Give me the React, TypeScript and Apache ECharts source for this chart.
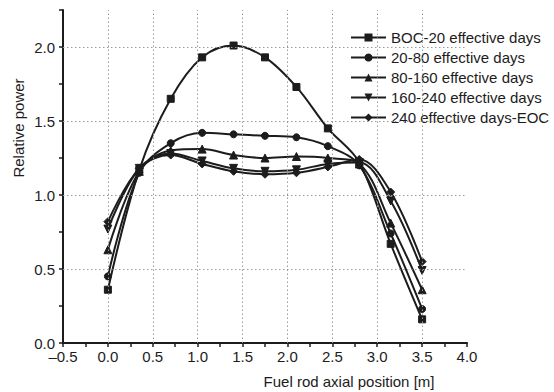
import React, { useEffect, useRef } from "react";
import * as echarts from "echarts";

const positions = [0.0, 0.35, 0.7, 1.05, 1.4, 1.75, 2.1, 2.45, 2.8, 3.15, 3.5];
const seriesNames = [
  "BOC-20 effective days",
  "20-80 effective days",
  "80-160 effective days",
  "160-240 effective days",
  "240 effective days-EOC",
];
const boc20 = [0.36, 1.17, 1.65, 1.93, 2.01, 1.93, 1.73, 1.45, 1.22, 0.67, 0.16];
const d20_80 = [0.45, 1.15, 1.35, 1.42, 1.41, 1.40, 1.39, 1.33, 1.20, 0.74, 0.23];
const d80_160 = [0.63, 1.16, 1.30, 1.31, 1.27, 1.25, 1.26, 1.25, 1.21, 0.81, 0.36];
const d160_240 = [0.77, 1.18, 1.28, 1.23, 1.18, 1.16, 1.17, 1.21, 1.22, 0.96, 0.49];
const d240_eoc = [0.82, 1.18, 1.27, 1.21, 1.16, 1.14, 1.15, 1.19, 1.24, 1.02, 0.55];
const xGrid = [0.0, 0.5, 1.0, 1.5, 2.0, 2.5, 3.0, 3.5];
const yGrid = [0.5, 1.0, 1.5, 2.0];

const FONT = "Liberation Sans, Arial, sans-serif";
const INK = "#1c1c1c";

export default function App() {
  const ref = useRef<HTMLDivElement>(null);
  useEffect(() => {
    if (!ref.current) return;
    const chart = echarts.init(ref.current, undefined, { renderer: "svg" });
    const values = [boc20, d20_80, d80_160, d160_240, d240_eoc];
    const symbols = ["rect", "circle", "triangle", "triangle", "diamond"];
    const rotations = [0, 0, 0, 180, 0];
    const sizes = [7, 7, 8, 8, 8];
    const dataSeries = values.map((vals, i) => ({
      name: seriesNames[i],
      type: "line",
      smooth: 0.35,
      data: vals.map((v, j) => [positions[j], v]),
      symbol: symbols[i],
      symbolRotate: rotations[i],
      symbolSize: sizes[i],
      showSymbol: true,
      lineStyle: { color: INK, width: 2 },
      itemStyle: { color: INK, borderColor: INK },
      z: 3,
    }));
    const lineStyleGrid = { color: "#9a9a9a", type: [1.5, 2.5], width: 1 };
    const gridSeries = {
      type: "line",
      data: [],
      silent: true,
      z: 1,
      markLine: {
        silent: true,
        symbol: ["none", "none"],
        label: { show: false },
        lineStyle: lineStyleGrid,
        emphasis: { disabled: true },
        data: [
          ...xGrid.map((x) => ({ xAxis: x })),
          ...yGrid.map((y) => ({ yAxis: y })),
        ],
      },
    };
    const fmt = (v: number) => {
      if (Math.abs(Math.round(v * 2) - v * 2) > 1e-6) return "";
      const s = v.toFixed(1);
      return v < 0 ? "\u2013" + s.slice(1) : s;
    };
    chart.setOption({
      animation: false,
      backgroundColor: "#ffffff",
      textStyle: { fontFamily: FONT },
      grid: { left: 63, right: 87, top: 10, bottom: 49 },
      legend: {
        data: seriesNames,
        orient: "vertical",
        left: 345,
        top: 25,
        padding: [5, 4, 5, 5],
        backgroundColor: "#ffffff",
        itemWidth: 35,
        itemHeight: 10,
        itemGap: 5,
        z: 5,
        textStyle: { fontSize: 15, color: INK, fontFamily: FONT, lineHeight: 14 },
      },
      xAxis: {
        type: "value",
        min: -0.5,
        max: 4.0,
        interval: 0.25,
        axisLine: { show: true, onZero: false, lineStyle: { color: INK, width: 2 } },
        axisTick: { show: true, inside: false, length: 4, lineStyle: { color: INK, width: 1.5 } },
        axisLabel: { formatter: fmt, fontSize: 15, color: INK, margin: 6, fontFamily: FONT },
        splitLine: { show: false },
      },
      yAxis: {
        type: "value",
        min: 0,
        max: 2.25,
        interval: 0.25,
        axisLine: { show: true, onZero: false, lineStyle: { color: INK, width: 2 } },
        axisTick: { show: true, inside: false, length: 4, lineStyle: { color: INK, width: 1.5 } },
        axisLabel: { formatter: fmt, fontSize: 15, color: INK, margin: 8, fontFamily: FONT },
        splitLine: { show: false },
      },
      graphic: [
        {
          type: "text",
          x: 18,
          y: 128,
          rotation: Math.PI / 2,
          style: {
            text: "Relative power",
            fontSize: 15,
            fontFamily: FONT,
            fill: INK,
            align: "center",
            verticalAlign: "middle",
          },
        },
        {
          type: "text",
          x: 349,
          y: 381,
          style: {
            text: "Fuel rod axial position [m]",
            fontSize: 15,
            fontFamily: FONT,
            fill: INK,
            align: "center",
            verticalAlign: "middle",
          },
        },
      ],
      series: [gridSeries, ...dataSeries],
    });
    return () => chart.dispose();
  }, []);
  return (
    <div
      ref={ref}
      style={{ position: "absolute", left: 0, top: 0, width: 554, height: 392 }}
    />
  );
}
